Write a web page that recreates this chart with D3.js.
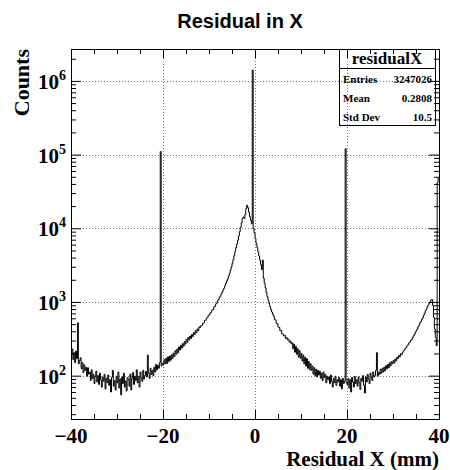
<!DOCTYPE html>
<html>
<head>
<meta charset="utf-8">
<script src="https://cdn.jsdelivr.net/npm/d3@7"></script>
<style>
  body { margin: 0; background: #fff; }
  svg { display: block; }
</style>
</head>
<body>
<div id="chart"></div>
<script>
// histogram binning: 400 bins of 0.2 mm from -40 to 40, one row = 2 mm
const binLo = -40;
const binWidth = 0.2;
const counts = [
  190, 230, 165, 205, 150, 215, 170, 520, 145, 160,
  175, 125, 150, 110, 140, 118, 130, 98, 128, 105,
  112, 86, 120, 92, 104, 78, 98, 115, 82, 100,
  76, 108, 88, 70, 96, 84, 104, 66, 92, 80,
  102, 74, 88, 60, 95, 118, 72, 86, 64, 98,
  80, 112, 68, 90, 55, 96, 78, 108, 70, 85,
  62, 94, 88, 72, 105, 64, 92, 110, 76, 98,
  86, 120, 80, 98, 70, 112, 94, 84, 118, 90,
  100, 114, 96, 190, 108, 92, 126, 104, 118, 100,
  130, 112, 142, 120, 138, 126, 150, 110000, 135, 148,
  140, 165, 145, 172, 146, 180, 155, 185, 162, 192,
  172, 202, 182, 218, 195, 230, 205, 245, 222, 258,
  236, 272, 250, 290, 268, 310, 285, 328, 305, 345,
  320, 360, 340, 385, 362, 408, 385, 430, 410, 460,
  450, 478, 480, 515, 520, 560, 565, 605, 615, 660,
  665, 710, 725, 775, 790, 850, 870, 935, 960, 1040,
  1080, 1150, 1200, 1290, 1350, 1450, 1540, 1660, 1780, 1930,
  2050, 2250, 2450, 2700, 3000, 3350, 3750, 4250, 4800, 5500,
  6100, 6900, 7900, 9000, 10300, 11800, 13500, 14200, 13600, 15500,
  18500, 20500, 19000, 16500, 14500, 12800, 11500, 1400000, 9800, 8600,
  7300, 6300, 5500, 4800, 4200, 3700, 3200, 2750, 3700, 2100,
  1800, 1550, 1350, 1180, 1060, 950, 860, 790, 730, 680,
  640, 580, 570, 510, 505, 455, 450, 405, 410, 370,
  365, 345, 352, 320, 330, 305, 312, 285, 295, 270,
  280, 232, 268, 208, 250, 195, 232, 178, 218, 172,
  200, 158, 190, 145, 178, 135, 170, 126, 156, 120,
  145, 118, 135, 105, 128, 100, 122, 96, 118, 102,
  115, 92, 108, 86, 112, 94, 104, 80, 98, 88,
  96, 78, 102, 84, 70, 92, 80, 98, 74, 88,
  82, 95, 72, 88, 66, 92, 78, 84, 120000, 80,
  76, 92, 68, 88, 60, 94, 82, 70, 98, 78,
  88, 72, 96, 80, 65, 92, 84, 100, 74, 58,
  96, 82, 104, 90, 78, 108, 94, 86, 112, 96,
  100, 118, 205, 98, 112, 104, 122, 108, 126, 112,
  130, 116, 136, 124, 142, 128, 150, 136, 155, 145,
  160, 148, 168, 158, 178, 170, 188, 180, 198, 192,
  205, 215, 222, 235, 240, 255, 262, 278, 285, 300,
  310, 330, 345, 365, 385, 410, 430, 460, 485, 520,
  540, 580, 610, 660, 700, 760, 800, 860, 910, 960,
  1000, 1060, 1080, 900, 620, 430, 330, 255, 42000, 48000
];
const xDomain = [-40, 40];
const yDomain = [25.8, 2.71e6];
const xMajor = [-40, -20, 0, 20, 40];
const xMinor = [-35, -30, -25, -15, -10, -5, 5, 10, 15, 25, 30, 35];
const yDecades = [2, 3, 4, 5, 6];
const title = 'Residual in X';
const xTitle = 'Residual X (mm)';
const yTitle = 'Counts';
const statsName = 'residualX';
const statsRows = [['Entries', '3247026'], ['Mean', '0.2808'], ['Std Dev', '10.5']];

const W = 450, H = 470;
const frame = {left: 71, right: 439, top: 49, bottom: 419};
const serif = '"Liberation Serif", "Times New Roman", serif';
const sans = '"Liberation Sans", Arial, sans-serif';

const svg = d3.select('#chart').append('svg')
    .attr('width', W)
    .attr('height', H);

const x = d3.scaleLinear().domain(xDomain).range([frame.left, frame.right]);
const y = d3.scaleLog().domain(yDomain).range([frame.bottom, frame.top]);

// minor log ticks (2..9 in each decade inside domain)
const yMinor = [];
for (let e = 1; e <= 6; e++) {
    for (let m = 2; m <= 9; m++) {
        const v = m * Math.pow(10, e);
        if (v >= yDomain[0] && v <= yDomain[1]) yMinor.push(v);
    }
}
const yMajor = yDecades.map(e => Math.pow(10, e));

// grid
const grid = svg.append('g')
    .attr('stroke', '#777')
    .attr('stroke-width', 1)
    .attr('stroke-dasharray', '1,2');
grid.selectAll('.gx')
    .data(xMajor.filter(v => v > xDomain[0] && v < xDomain[1]))
    .enter().append('line')
    .attr('x1', d => Math.round(x(d)) + 0.5).attr('x2', d => Math.round(x(d)) + 0.5)
    .attr('y1', frame.top).attr('y2', frame.bottom);
grid.selectAll('.gy')
    .data(yMajor)
    .enter().append('line')
    .attr('y1', d => Math.round(y(d)) + 0.5).attr('y2', d => Math.round(y(d)) + 0.5)
    .attr('x1', frame.left).attr('x2', frame.right);

// histogram outline
svg.append('clipPath').attr('id', 'frameClip')
    .append('rect')
    .attr('x', frame.left).attr('y', frame.top)
    .attr('width', frame.right - frame.left)
    .attr('height', frame.bottom - frame.top);

const steps = [];
counts.forEach((c, i) => {
    const lo = binLo + i * binWidth;
    steps.push([lo, c], [lo + binWidth, c]);
});
const line = d3.line()
    .x(d => x(d[0]))
    .y(d => y(Math.max(d[1], yDomain[0])));

svg.append('path')
    .datum(steps)
    .attr('clip-path', 'url(#frameClip)')
    .attr('fill', 'none')
    .attr('stroke', '#000')
    .attr('stroke-width', 1)
    .attr('d', line);

// axes, ticks pointing inside the frame on all four sides
function drawTicks(axisFn, scale, values, size, transform) {
    svg.append('g')
        .attr('transform', transform)
        .call(axisFn(scale).tickValues(values).tickSize(size).tickFormat(''))
        .call(g => g.select('.domain').remove())
        .call(g => g.selectAll('line').attr('stroke', '#000'));
}
drawTicks(d3.axisBottom, x, xMajor, -9, `translate(0,${frame.bottom})`);
drawTicks(d3.axisBottom, x, xMinor, -5, `translate(0,${frame.bottom})`);
drawTicks(d3.axisTop, x, xMajor, -9, `translate(0,${frame.top})`);
drawTicks(d3.axisTop, x, xMinor, -5, `translate(0,${frame.top})`);
drawTicks(d3.axisLeft, y, yMajor, -10, `translate(${frame.left},0)`);
drawTicks(d3.axisLeft, y, yMinor, -5, `translate(${frame.left},0)`);
drawTicks(d3.axisRight, y, yMajor, -10, `translate(${frame.right},0)`);
drawTicks(d3.axisRight, y, yMinor, -5, `translate(${frame.right},0)`);

// frame
svg.append('rect')
    .attr('x', frame.left + 0.5).attr('y', frame.top + 0.5)
    .attr('width', frame.right - frame.left)
    .attr('height', frame.bottom - frame.top)
    .attr('fill', 'none')
    .attr('stroke', '#000');

// x tick labels
svg.selectAll('.xl')
    .data(xMajor)
    .enter().append('text')
    .attr('x', d => x(d))
    .attr('y', 443)
    .attr('text-anchor', 'middle')
    .style('font-family', serif)
    .style('font-weight', 'bold')
    .style('font-size', '21px')
    .text(d => d < 0 ? '\u2212' + Math.abs(d) : d);

// y tick labels 10^n
const yl = svg.selectAll('.yl')
    .data(yDecades)
    .enter().append('text')
    .attr('x', 66)
    .attr('y', d => y(Math.pow(10, d)) + 8)
    .attr('text-anchor', 'end')
    .style('font-family', serif)
    .style('font-weight', 'bold')
    .style('font-size', '21px');
yl.append('tspan').text('10');
yl.append('tspan')
    .attr('dy', -9)
    .style('font-size', '14px')
    .text(d => d);

// titles
svg.append('text')
    .attr('x', 240).attr('y', 28)
    .attr('text-anchor', 'middle')
    .style('font-family', sans)
    .style('font-weight', 'bold')
    .style('font-size', '20px')
    .text(title);

svg.append('text')
    .attr('x', frame.right).attr('y', 466)
    .attr('text-anchor', 'end')
    .style('font-family', serif)
    .style('font-weight', 'bold')
    .style('font-size', '21px')
    .text(xTitle);

svg.append('text')
    .attr('transform', `translate(29,${frame.top}) rotate(-90)`)
    .attr('text-anchor', 'end')
    .style('font-family', serif)
    .style('font-weight', 'bold')
    .style('font-size', '22px')
    .text(yTitle);

// stats box
const box = {left: 339, right: 435, top: frame.top, bottom: 125, header: 68};
const stats = svg.append('g');
stats.append('rect')
    .attr('x', box.left + 0.5).attr('y', box.top + 0.5)
    .attr('width', box.right - box.left).attr('height', box.bottom - box.top)
    .attr('fill', 'none').attr('stroke', '#000');
stats.append('line')
    .attr('x1', box.left).attr('x2', box.right)
    .attr('y1', box.header + 0.5).attr('y2', box.header + 0.5)
    .attr('stroke', '#000');
stats.append('text')
    .attr('x', (box.left + box.right) / 2).attr('y', 64)
    .attr('text-anchor', 'middle')
    .style('font-family', serif).style('font-weight', 'bold').style('font-size', '17px')
    .text(statsName);
statsRows.forEach((r, i) => {
    const ty = 83 + i * 19;
    stats.append('text')
        .attr('x', box.left + 4).attr('y', ty)
        .style('font-family', serif).style('font-weight', 'bold').style('font-size', '11px')
        .text(r[0]);
    stats.append('text')
        .attr('x', box.right - 3).attr('y', ty)
        .attr('text-anchor', 'end')
        .style('font-family', serif).style('font-weight', 'bold').style('font-size', '11px')
        .text(r[1]);
});
</script>
</body>
</html>
